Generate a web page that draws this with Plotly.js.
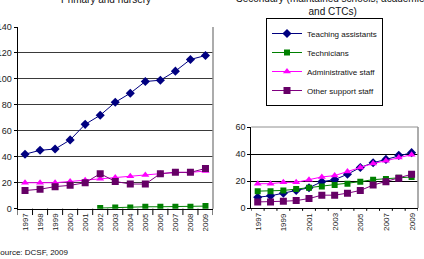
<!DOCTYPE html>
<html>
<head>
<meta charset="utf-8">
<script src="https://cdn.plot.ly/plotly-3.0.1.min.js"></script>
<style>
  html, body { margin: 0; padding: 0; background: #fff; }
  #chart { width: 424px; height: 259px; }
</style>
</head>
<body>
<div id="chart"></div>
<script>
// School support staff (thousands, FTE), 1997-2009
const years = [1997, 1998, 1999, 2000, 2001, 2002, 2003, 2004, 2005, 2006, 2007, 2008, 2009];

// Primary and nursery
const primTeachingAssistants = [42, 45, 46, 53, 65, 72, 82, 89, 98, 99, 106, 115, 118];
const primTechnicians        = [null, null, null, null, null, 0.5, 1, 1, 1.5, 1.5, 1.5, 1.5, 2];
const primAdministrative     = [20, 20, 20, 21, 22, 23, 24, 25, 26, 27, 28, 28, 29];
const primOtherSupport       = [14, 15, 17, 18, 20, 27, 21, 19, 19, 27, 28, 28, 31];

// Secondary (maintained schools, academies and CTCs)
const secTeachingAssistants = [8, 9, 11, 13, 15, 19.5, 21, 25, 30, 33.5, 36, 39, 41];
const secTechnicians        = [12.5, 12.5, 13, 14, 15, 16, 17, 18, 19.5, 21, 21.5, 22.5, 23];
const secAdministrative     = [18, 18, 19, 19, 21, 23, 24, 27, 30, 33, 35, 37.5, 39.5];
const secOtherSupport       = [4.5, 4.5, 5, 5.5, 7, 9.5, 9.5, 11, 13, 17, 19.5, 22, 25];

const seriesNames = ['Teaching assistants', 'Technicians', 'Administrative staff', 'Other support staff'];
const primTickYears = years;
const secTickYears = years.filter((y, i) => i % 2 === 0);

const W = 424, H = 259;
const px = v => v / W;          // horizontal pixel -> paper
const py = v => (H - v) / H;    // vertical pixel (from top) -> paper

const FONT = 'Liberation Sans, Arial, sans-serif';

const styles = [
  { line: '#000080', marker: '#000080', symbol: 'diamond', size: 7 },
  { line: '#008000', marker: '#008000', symbol: 'square', size: 6 },
  { line: '#ff00ff', marker: '#ff00ff', symbol: 'triangle-up', size: 7 },
  { line: '#800080', marker: '#660066', symbol: 'square', size: 7 }
];

function trace(values, k, xa, ya, showLegend) {
  const s = styles[k];
  return {
    x: years, y: values, name: seriesNames[k],
    type: 'scatter', mode: 'lines+markers',
    xaxis: xa, yaxis: ya, showlegend: showLegend,
    line: { color: s.line, width: 1 },
    marker: { color: s.marker, symbol: s.symbol, size: s.size },
    connectgaps: false
  };
}

const data = [
  trace(primTeachingAssistants, 0, 'x', 'y', false),
  trace(primTechnicians, 1, 'x', 'y', false),
  trace(primAdministrative, 2, 'x', 'y', false),
  trace(primOtherSupport, 3, 'x', 'y', false),
  trace(secTeachingAssistants, 0, 'x2', 'y2', true),
  trace(secTechnicians, 1, 'x2', 'y2', true),
  trace(secAdministrative, 2, 'x2', 'y2', true),
  trace(secOtherSupport, 3, 'x2', 'y2', true)
];

const tickFont = { family: FONT, size: 8, color: '#222' };
const yFont = { family: FONT, size: 9, color: '#222' };

// year axis; its labels are set as vertical text further down
function xAxis(domain, anchor) {
  return {
    domain: domain, anchor: anchor,
    range: [years[0] - 0.5, years[years.length - 1] + 0.5],
    showticklabels: false, ticks: '',
    showgrid: false, zeroline: false,
    showline: true, linecolor: '#000', fixedrange: true
  };
}

function yAxis(domain, range, dtick, anchor, gridColor) {
  return {
    domain: domain, anchor: anchor, range: range, dtick: dtick,
    tickfont: yFont, ticks: 'outside', ticklen: 3, tickcolor: '#000',
    showgrid: true, gridcolor: gridColor, zeroline: false,
    showline: true, linecolor: '#000', fixedrange: true
  };
}

// small tick marks on the boundaries between year categories
const boundaryTicks = [];
function addBoundaryTicks(xref, yref) {
  for (let i = 0; i <= years.length; i++) {
    const xb = years[0] - 0.5 + i;
    boundaryTicks.push({
      type: 'line', xref: xref, yref: yref + ' domain',
      x0: xb, x1: xb, y0: 0, y1: -0.035,
      line: { color: '#000', width: 1 }
    });
  }
}
addBoundaryTicks('x', 'y');
addBoundaryTicks('x2', 'y2');

const frameLines = [
  { type: 'line', xref: 'x domain', yref: 'y domain', x0: 1, x1: 1, y0: 0, y1: 1,
    line: { color: '#909090', width: 1.5 } },
  { type: 'line', xref: 'x2 domain', yref: 'y2 domain', x0: 0, x1: 1, y0: 1, y1: 1,
    line: { color: '#909090', width: 1 } },
  { type: 'line', xref: 'x2 domain', yref: 'y2 domain', x0: 1, x1: 1, y0: 0, y1: 1,
    line: { color: '#909090', width: 1.5 } }
];

const annFont = { family: FONT, size: 10, color: '#111' };
const textAnnotations = [
  { text: 'Primary and nursery', xref: 'paper', yref: 'paper',
    x: px(106), y: py(-1), xanchor: 'center', yanchor: 'middle',
    showarrow: false, font: annFont },
  { text: 'Secondary (maintained schools, academies<br>and CTCs)', xref: 'paper', yref: 'paper',
    x: px(332), y: py(5), xanchor: 'center', yanchor: 'middle',
    showarrow: false, font: annFont },
  { text: 'Source: DCSF, 2009', xref: 'paper', yref: 'paper',
    x: px(-7), y: py(252), xanchor: 'left', yanchor: 'middle',
    showarrow: false, font: { family: FONT, size: 8, color: '#111' } }
];

// vertical year labels, placed on each year through the x axes
function yearLabels(xref, tickYears, topPx) {
  return tickYears.map(function (yr) {
    return {
      text: String(yr), xref: xref, yref: 'paper', x: yr, y: py(topPx),
      xanchor: 'center', yanchor: 'top', textangle: -90,
      showarrow: false, borderpad: 0, font: tickFont
    };
  });
}

const layout = {
  width: W, height: H,
  margin: { l: 0, r: 0, t: 0, b: 0 },
  paper_bgcolor: '#fff', plot_bgcolor: '#fff',
  legend: {
    x: px(266), y: py(18), xanchor: 'left', yanchor: 'top',
    bgcolor: '#fff', bordercolor: '#000', borderwidth: 1,
    font: { family: FONT, size: 8, color: '#111' },
    itemwidth: 30, tracegroupgap: 0
  },
  xaxis: xAxis([px(17.5), px(213)], 'y'),
  yaxis: yAxis([py(208.7), py(27)], [0, 140], 20, 'x', '#3a3a3a'),
  xaxis2: xAxis([px(251.3), px(418)], 'y2'),
  yaxis2: yAxis([py(208), py(127)], [0, 60], 20, 'x2', '#000'),
  shapes: frameLines.concat(boundaryTicks),
  annotations: textAnnotations
    .concat(yearLabels('x', primTickYears, 212))
    .concat(yearLabels('x2', secTickYears, 212))
};

Plotly.newPlot('chart', data, layout, { staticPlot: true, displayModeBar: false });
</script>
</body>
</html>
